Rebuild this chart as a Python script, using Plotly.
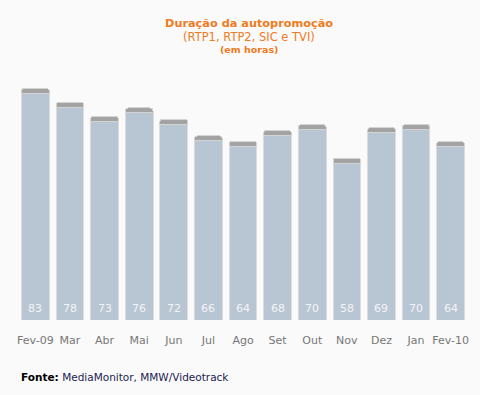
import plotly.graph_objects as go

months = ["Fev-09", "Mar", "Abr", "Mai", "Jun", "Jul", "Ago", "Set", "Out", "Nov", "Dez", "Jan", "Fev-10"]
hours = [83, 78, 73, 76, 72, 66, 64, 68, 70, 58, 69, 70, 64]

CAP = 1.8  # grey cap thickness in data units
body = [v - CAP for v in hours]
cap = [CAP for _ in hours]

BG = "#fafafa"
FONT = "DejaVu Sans"
ORANGE = "#f07a1e"

fig = go.Figure()
fig.add_trace(go.Bar(
    x=months, y=body, width=0.8,
    marker=dict(color="#b8c5d3", line=dict(color="#dcdcdc", width=1)),
    hoverinfo="skip",
))
fig.add_trace(go.Bar(
    x=months, y=cap, width=0.8,
    marker=dict(color="#a3a3a3", line=dict(color="#d4d4d4", width=1), cornerradius=3),
    hoverinfo="skip",
))

for m, v in zip(months, hours):
    fig.add_annotation(x=m, y=0, yanchor="bottom", yshift=3, text=str(v), showarrow=False,
                       font=dict(family=FONT, size=11, color="#f2f4f7"))

titles = [("<b>Duração da autopromoção</b>", 11.3, 18),
          ("(RTP1, RTP2, SIC e TVI)", 11.5, 4),
          ("<b>(em horas)</b>", 9.5, -8)]
for txt, sz, ys in titles:
    fig.add_annotation(xref="paper", yref="paper", x=0.5, y=1, xanchor="center", yanchor="middle",
                       xshift=6, yshift=ys, showarrow=False, text=txt,
                       font=dict(family=FONT, size=sz, color=ORANGE))

fig.add_annotation(xref="paper", yref="paper", x=0, y=0, xanchor="left", yanchor="middle",
                   xshift=1, yshift=-57, showarrow=False,
                   text="<b>Fonte:</b> <span style='color:#1c1c50'>MediaMonitor, MMW/Videotrack</span>",
                   font=dict(family=FONT, size=10.5, color="#000000"))

fig.update_layout(
    barmode="stack",
    width=480, height=395,
    margin=dict(l=18, r=12, t=41, b=75),
    paper_bgcolor=BG, plot_bgcolor=BG,
    showlegend=False,
    xaxis=dict(showgrid=False, showline=False, zeroline=False, ticks="",
               tickfont=dict(family=FONT, size=11, color="#777777"),
               ticklabelstandoff=12,
               range=[-0.5, 12.5], fixedrange=True),
    yaxis=dict(visible=False, range=[0, 100], fixedrange=True),
)

fig.write_html("out.html", config={"displayModeBar": False},
               post_script="document.body.style.margin='0';document.body.style.background='#fafafa';")
